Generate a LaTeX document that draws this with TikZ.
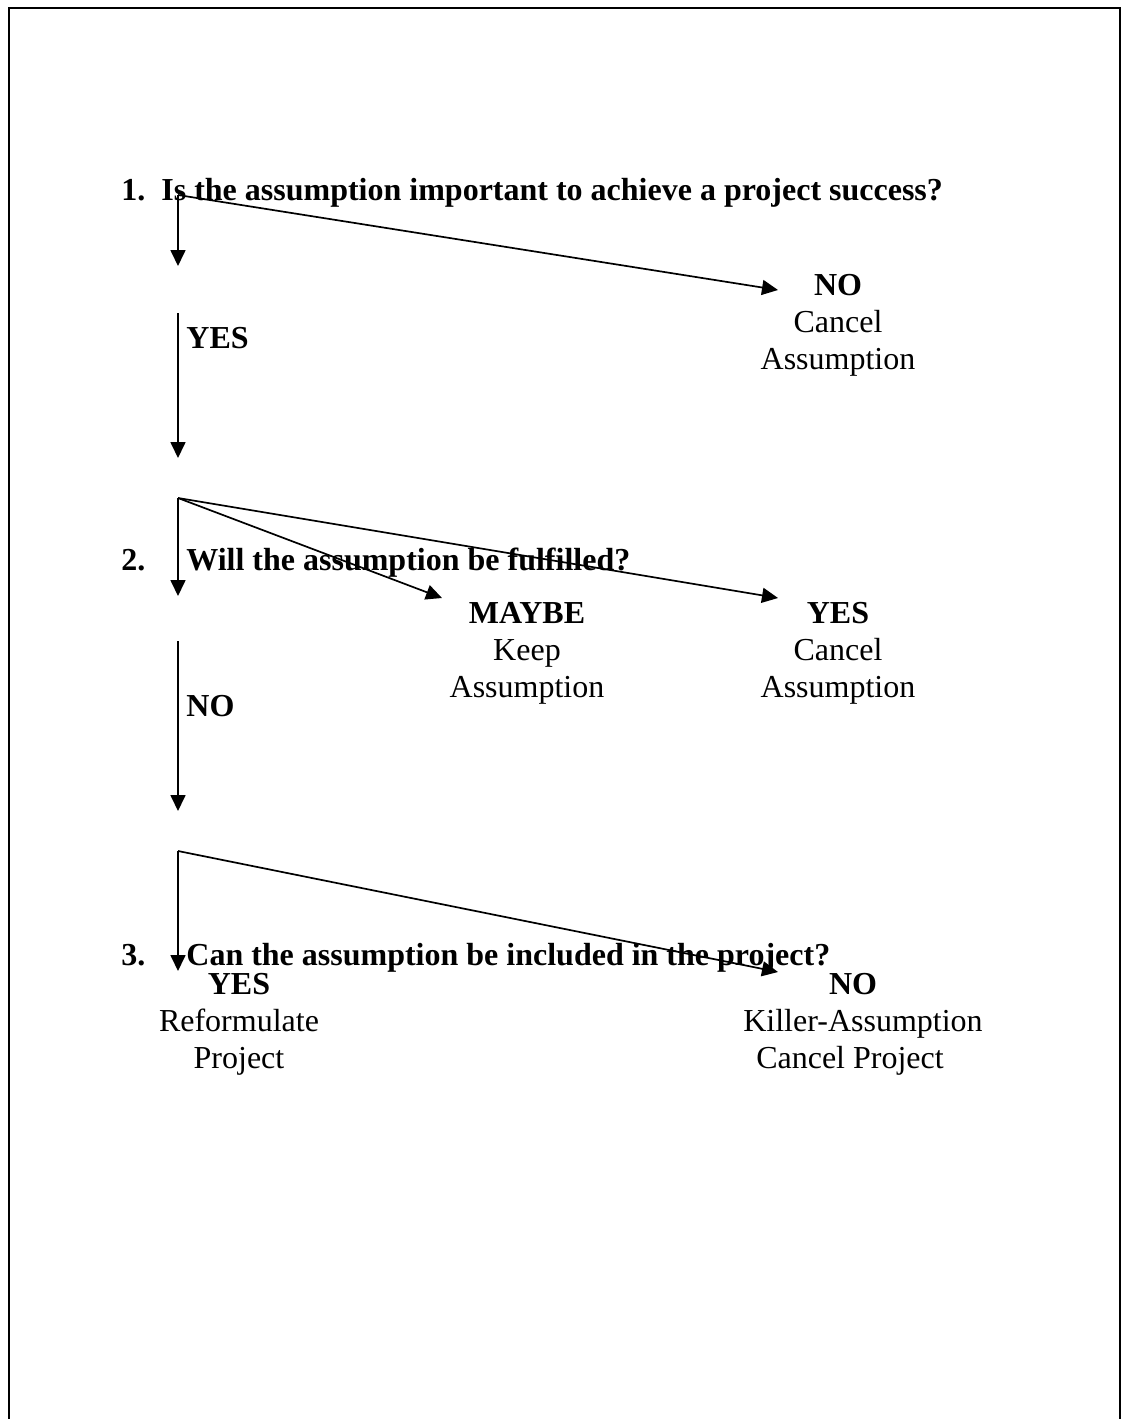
\documentclass[tikz,border=0pt]{standalone}
\usepackage{fontspec}
\setmainfont{Liberation Serif}
\usetikzlibrary{arrows.meta}
\tikzset{
  conn/.style={line width=0.85pt,-{Triangle[length=8pt,width=7.5pt]}},
  ttl/.style={anchor=base west,inner sep=0pt,font=\fontsize{16}{18.5}\selectfont\bfseries},
  ans/.style={anchor=base,inner sep=0pt,font=\fontsize{16}{18.5}\selectfont},
  ansb/.style={anchor=base,inner sep=0pt,font=\fontsize{16}{18.5}\selectfont\bfseries},
  lbl/.style={anchor=base west,inner sep=0pt,font=\fontsize{16}{18.5}\selectfont\bfseries}
}
\begin{document}
\begin{tikzpicture}[x=0.5pt,y=-0.5pt]
\useasboundingbox (0,0) rectangle (1127,1419);
% frame
\draw[line width=1.3pt] (9,1419) -- (9,8) -- (1120,8) -- (1120,1419);

% question 1
\node[ttl] (n1) at (121,200) {1.};
\node[ttl] (q1) at (161,200) {Is the assumption important to achieve a project success?};
\coordinate (o1) at (178,195);
\coordinate (t1a) at (178,266);
\coordinate (t1b) at (778,290);
\draw[conn] (o1) -- (t1a);
\draw[conn] (o1) -- (t1b);
\node[ansb] (no1) at (838,295) {NO};
\node[ans] (c1) at (838,332) {Cancel};
\node[ans] (a1) at (838,369) {Assumption};

% YES arrow
\coordinate (y1s) at (178,313);
\coordinate (y1e) at (178,458);
\draw[conn] (y1s) -- (y1e);
\node[lbl] (yes1) at (186,348) {YES};

% question 2
\coordinate (o2) at (178,498);
\coordinate (t2a) at (178,596);
\coordinate (t2b) at (442,598);
\coordinate (t2c) at (778,598);
\draw[conn] (o2) -- (t2a);
\draw[conn] (o2) -- (t2b);
\draw[conn] (o2) -- (t2c);
\node[ttl] (n2) at (121,570) {2.};
\node[ttl] (q2) at (186,570) {Will the assumption be fulfilled?};
\node[ansb] (may) at (527,623) {MAYBE};
\node[ans] (k2) at (527,660) {Keep};
\node[ans] (a2) at (527,697) {Assumption};
\node[ansb] (yes2) at (838,623) {YES};
\node[ans] (c2) at (838,660) {Cancel};
\node[ans] (a3) at (838,697) {Assumption};

% NO arrow
\coordinate (n2s) at (178,641);
\coordinate (n2e) at (178,811);
\draw[conn] (n2s) -- (n2e);
\node[lbl] (no2) at (186,716) {NO};

% question 3
\coordinate (o3) at (178,851);
\coordinate (t3a) at (178,971);
\coordinate (t3b) at (778,972);
\draw[conn] (o3) -- (t3a);
\draw[conn] (o3) -- (t3b);
\node[ttl] (n3) at (121,965) {3.};
\node[ttl] (q3) at (186,965) {Can the assumption be included in the project?};
\node[ansb] (yes3) at (239,994) {YES};
\node[ans] (r3) at (239,1031) {Reformulate};
\node[ans] (p3) at (239,1068) {Project};
\node[ansb] (no3) at (853,994) {NO};
\node[ans] (k3) at (863,1031) {Killer-Assumption};
\node[ans] (c3) at (850,1068) {Cancel Project};
\end{tikzpicture}
\end{document}
